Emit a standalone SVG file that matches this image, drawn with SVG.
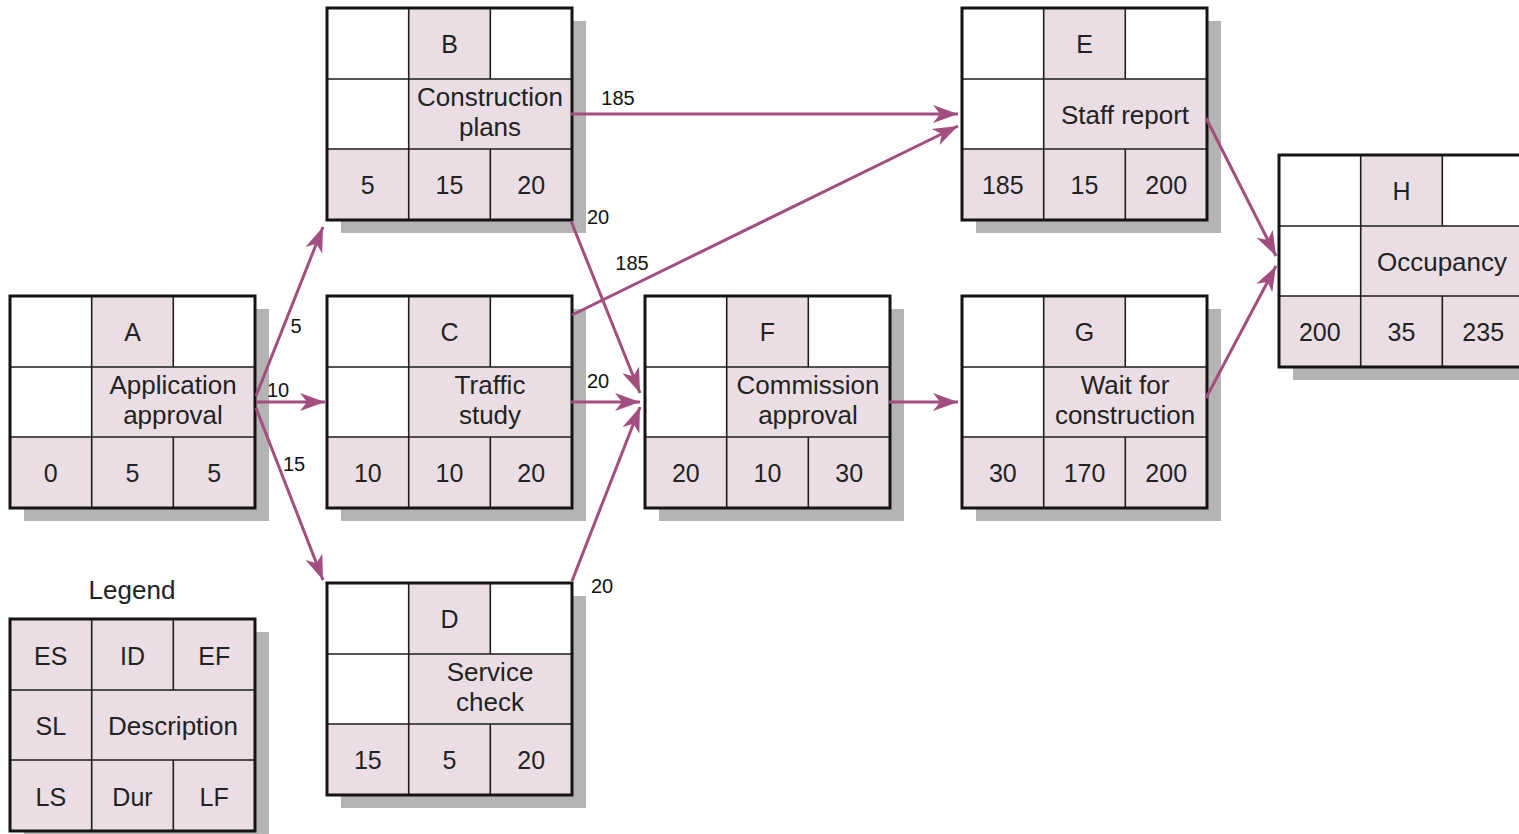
<svg xmlns="http://www.w3.org/2000/svg" width="1519" height="834" viewBox="0 0 1519 834">
<style>
.bg{fill:#fff}
.sh{fill:#b4b4b4}
.w{fill:#fff}
.p{fill:#eadee4}
.g{stroke:#1e1e1e;stroke-width:1.6;fill:none}
.f{stroke:#141414;stroke-width:3;fill:none}
.t{font-family:"Liberation Sans",Arial,sans-serif;font-size:25px;fill:#222;text-anchor:middle}
.d{font-size:26px}
.l{font-family:"Liberation Sans",Arial,sans-serif;font-size:20px;fill:#111;text-anchor:middle}
.c{stroke:#a24e7e;stroke-width:3;fill:none;marker-end:url(#ah)}
</style>
<defs>
<marker id="ah" markerUnits="userSpaceOnUse" viewBox="-26 -10 27 20" refX="0" refY="0" markerWidth="27" markerHeight="20" orient="auto">
<path d="M0,0 L-25,-9 L-18,0 L-25,9 Z" fill="#a24e7e"/>
</marker>
<g id="box">
<rect class="sh" x="14" y="13" width="245" height="212"/>
<rect class="w" x="0" y="0" width="245" height="212"/>
<rect class="p" x="81.7" y="0" width="81.6" height="71"/>
<rect class="p" x="81.7" y="71" width="163.3" height="70"/>
<rect class="p" x="0" y="141" width="245" height="71"/>
<path class="g" d="M81.7,0V212M163.3,0V71M163.3,141V212M0,71H245M0,141H245"/>
<rect class="f" x="0" y="0" width="245" height="212"/>
</g>
</defs>
<rect class="bg" x="0" y="0" width="1519" height="834"/>

<g id="nodeA" transform="translate(10,296)">
<use href="#box"/>
<text class="t" x="122.5" y="44.5">A</text>
<text class="t d" x="163" y="98">Application</text>
<text class="t d" x="163" y="128">approval</text>
<text class="t" x="40.8" y="185.5">0</text>
<text class="t" x="122.5" y="185.5">5</text>
<text class="t" x="204.2" y="185.5">5</text>
</g>

<g id="nodeB" transform="translate(327,8)">
<use href="#box"/>
<text class="t" x="122.5" y="44.5">B</text>
<text class="t d" x="163" y="98">Construction</text>
<text class="t d" x="163" y="128">plans</text>
<text class="t" x="40.8" y="185.5">5</text>
<text class="t" x="122.5" y="185.5">15</text>
<text class="t" x="204.2" y="185.5">20</text>
</g>

<g id="nodeC" transform="translate(327,296)">
<use href="#box"/>
<text class="t" x="122.5" y="44.5">C</text>
<text class="t d" x="163" y="98">Traffic</text>
<text class="t d" x="163" y="128">study</text>
<text class="t" x="40.8" y="185.5">10</text>
<text class="t" x="122.5" y="185.5">10</text>
<text class="t" x="204.2" y="185.5">20</text>
</g>

<g id="nodeD" transform="translate(327,583)">
<use href="#box"/>
<text class="t" x="122.5" y="44.5">D</text>
<text class="t d" x="163" y="98">Service</text>
<text class="t d" x="163" y="128">check</text>
<text class="t" x="40.8" y="185.5">15</text>
<text class="t" x="122.5" y="185.5">5</text>
<text class="t" x="204.2" y="185.5">20</text>
</g>

<g id="nodeF" transform="translate(645,296)">
<use href="#box"/>
<text class="t" x="122.5" y="44.5">F</text>
<text class="t d" x="163" y="98">Commission</text>
<text class="t d" x="163" y="128">approval</text>
<text class="t" x="40.8" y="185.5">20</text>
<text class="t" x="122.5" y="185.5">10</text>
<text class="t" x="204.2" y="185.5">30</text>
</g>

<g id="nodeE" transform="translate(962,8)">
<use href="#box"/>
<text class="t" x="122.5" y="44.5">E</text>
<text class="t d" x="163" y="116">Staff report</text>
<text class="t" x="40.8" y="185.5">185</text>
<text class="t" x="122.5" y="185.5">15</text>
<text class="t" x="204.2" y="185.5">200</text>
</g>

<g id="nodeG" transform="translate(962,296)">
<use href="#box"/>
<text class="t" x="122.5" y="44.5">G</text>
<text class="t d" x="163" y="98">Wait for</text>
<text class="t d" x="163" y="128">construction</text>
<text class="t" x="40.8" y="185.5">30</text>
<text class="t" x="122.5" y="185.5">170</text>
<text class="t" x="204.2" y="185.5">200</text>
</g>

<g id="nodeH" transform="translate(1279,155)">
<use href="#box"/>
<text class="t" x="122.5" y="44.5">H</text>
<text class="t d" x="163" y="116">Occupancy</text>
<text class="t" x="40.8" y="185.5">200</text>
<text class="t" x="122.5" y="185.5">35</text>
<text class="t" x="204.2" y="185.5">235</text>
</g>

<g id="legend" transform="translate(10,619)">
<text class="t d" x="122" y="-20">Legend</text>
<rect class="sh" x="14" y="13" width="245" height="212"/>
<rect class="p" x="0" y="0" width="245" height="212"/>
<path class="g" d="M81.7,0V212M163.3,0V71M163.3,141V212M0,71H245M0,141H245"/>
<rect class="f" x="0" y="0" width="245" height="212"/>
<text class="t" x="40.8" y="45.5">ES</text>
<text class="t" x="122.5" y="45.5">ID</text>
<text class="t" x="204.2" y="45.5">EF</text>
<text class="t" x="40.8" y="116">SL</text>
<text class="t d" x="163" y="116">Description</text>
<text class="t" x="40.8" y="186.5">LS</text>
<text class="t" x="122.5" y="186.5">Dur</text>
<text class="t" x="204.2" y="186.5">LF</text>
</g>

<g id="connectors">
<path class="c" d="M256,396 L323,227"/>
<path class="c" d="M256,402 L325,402"/>
<path class="c" d="M256,408 L323,580"/>
<path class="c" d="M571,114 L958,114"/>
<path class="c" d="M571,221 L640,393"/>
<path class="c" d="M572,315 L958,126"/>
<path class="c" d="M571,402 L640,402"/>
<path class="c" d="M572,581 L640,407"/>
<path class="c" d="M889,402 L958,402"/>
<path class="c" d="M1206,118 L1276,256"/>
<path class="c" d="M1206,398 L1276,266"/>
<text class="l" x="618" y="105">185</text>
<text class="l" x="598" y="224">20</text>
<text class="l" x="632" y="270">185</text>
<text class="l" x="296" y="333">5</text>
<text class="l" x="278" y="397">10</text>
<text class="l" x="294" y="471">15</text>
<text class="l" x="598" y="388">20</text>
<text class="l" x="602" y="593">20</text>
</g>
</svg>
